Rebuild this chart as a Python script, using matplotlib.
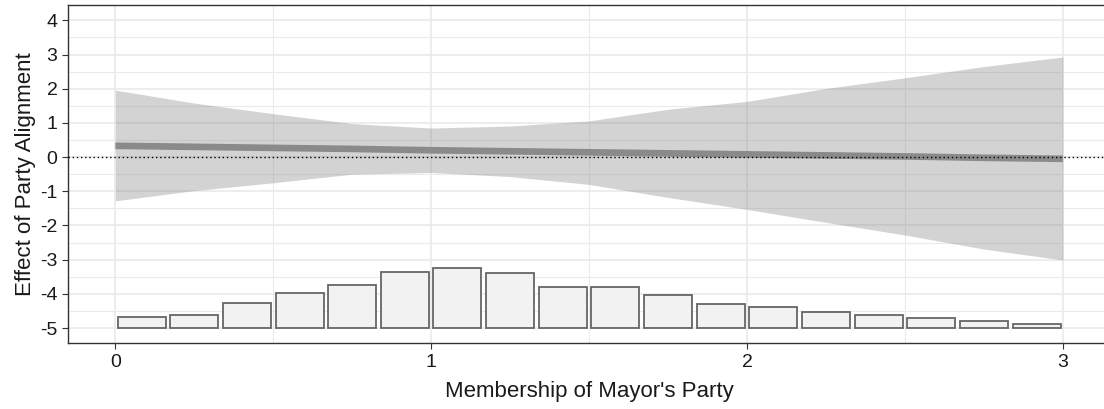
import matplotlib
matplotlib.use("Agg")
import matplotlib.pyplot as plt
import numpy as np

plt.rcParams["font.family"] = ["Liberation Sans", "DejaVu Sans"]
plt.rcParams["axes.unicode_minus"] = False

# marginal effect of party alignment along the moderator
moderator = [0.0, 0.25, 0.5, 0.75, 1.0, 1.25, 1.5, 1.75, 2.0, 2.25, 2.5, 2.75, 3.0]
effect = [0.33, 0.30, 0.27, 0.24, 0.20, 0.17, 0.14, 0.11, 0.08, 0.05, 0.02, -0.02, -0.05]
ci_upper = [1.96, 1.58, 1.27, 0.98, 0.85, 0.91, 1.06, 1.40, 1.63, 2.01, 2.32, 2.65, 2.93]
ci_lower = [-1.28, -0.98, -0.75, -0.50, -0.45, -0.57, -0.80, -1.18, -1.53, -1.91, -2.28, -2.69, -3.01]

# distribution of the moderator, drawn as bars rising from the floor of the plot
hist_centers = [0.083, 0.25, 0.417, 0.583, 0.75, 0.917, 1.083, 1.25, 1.417,
                1.583, 1.75, 1.917, 2.083, 2.25, 2.417, 2.583, 2.75, 2.917]
hist_heights = [0.33, 0.37, 0.74, 1.02, 1.26, 1.64, 1.76, 1.61, 1.19,
                1.19, 0.98, 0.69, 0.61, 0.46, 0.37, 0.29, 0.21, 0.12]
hist_floor = -5.0
hist_width = 0.152

figure = plt.figure(figsize=(11.04, 4.09), dpi=100)
axes = figure.add_axes([68 / 1104, 65.6 / 409, (1110.3 - 68) / 1104, 338.4 / 409])

axes.set_xlim(-0.15, 3.15)
axes.set_ylim(-5.45, 4.45)

# ggplot-like theme_bw grid
axes.set_xticks([0, 1, 2, 3])
axes.set_xticks([0.5, 1.5, 2.5], minor=True)
axes.set_yticks(range(-5, 5))
axes.set_yticks(np.arange(-4.5, 4.0, 1.0), minor=True)
axes.grid(which="major", color="#e8e8e8", linewidth=1.1, zorder=0)
axes.grid(which="minor", color="#ebebeb", linewidth=0.8, zorder=0)
axes.set_axisbelow(True)
axes.tick_params(which="minor", length=0)
axes.tick_params(which="major", length=4.5, width=0.8, color="#333333",
                 labelsize=14, labelcolor="#1a1a1a", pad=3)
for spine in axes.spines.values():
    spine.set_color("#333333")
    spine.set_linewidth(1.0)

axes.bar(hist_centers, hist_heights, width=hist_width, bottom=hist_floor,
         color="#f2f2f2", edgecolor="#666666", linewidth=1.3, zorder=2)

axes.fill_between(moderator, ci_lower, ci_upper, color="#808080", alpha=0.34,
                  linewidth=0, zorder=3)
axes.plot(moderator, effect, color="#8a8a8a", linewidth=4.8,
          solid_capstyle="butt", zorder=4)
axes.axhline(0, color="black", linewidth=1.0, linestyle=(0, (1, 2)), zorder=5)

axes.set_xlabel("Membership of Mayor's Party", fontsize=16, color="#1a1a1a", labelpad=7)
axes.set_ylabel("Effect of Party Alignment", fontsize=16, color="#1a1a1a", labelpad=3)

figure.savefig("out.png", dpi=100)
